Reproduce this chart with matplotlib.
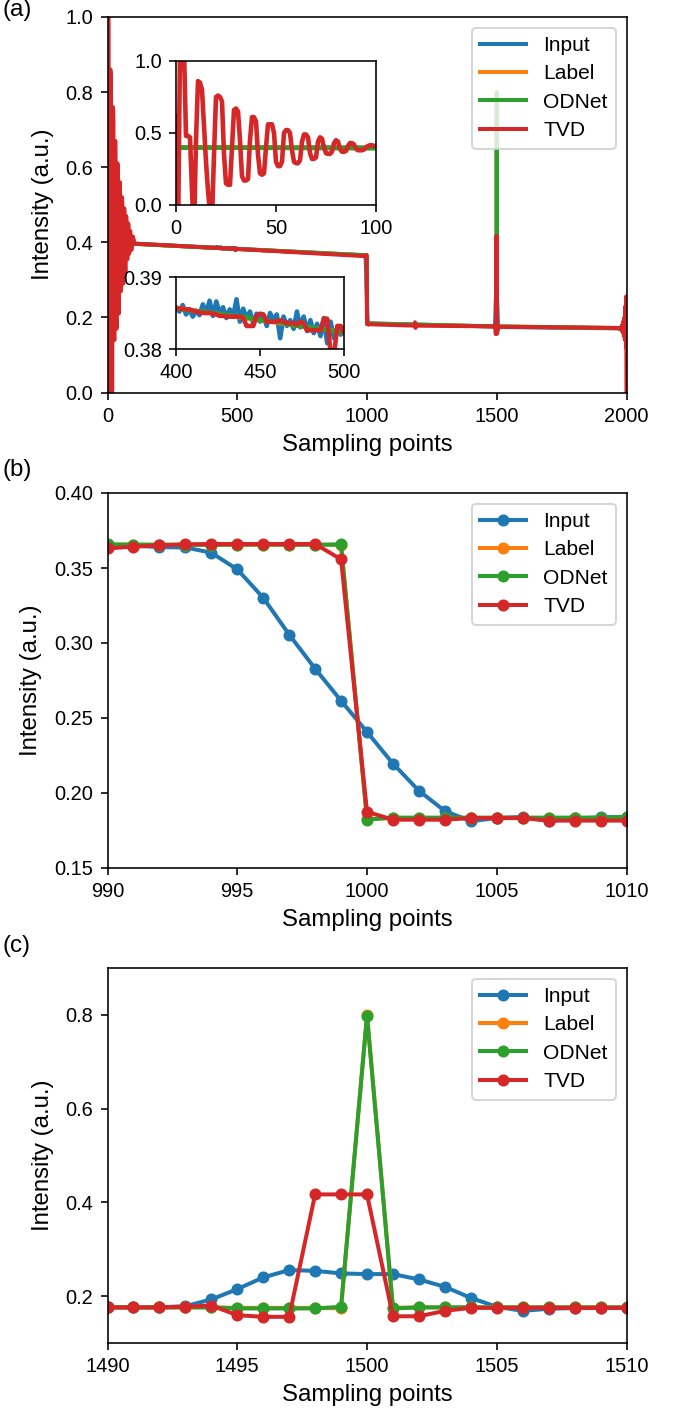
import numpy as np
import matplotlib
matplotlib.use('Agg')
import matplotlib.pyplot as plt

plt.rcParams['font.family'] = ['Liberation Sans', 'DejaVu Sans']

series_names = ['Input', 'Label', 'ODNet', 'TVD']
colors = ['#1f77b4', '#ff7f0e', '#2ca02c', '#d62728']

# ---------------- Panel (b): step region 990..1010 ----------------
x_b = list(range(990, 1011))
input_b = [0.3653, 0.3650, 0.3639, 0.3637, 0.3602, 0.3491, 0.3302, 0.3056, 0.2829, 0.2615,
           0.2407, 0.2196, 0.2015, 0.1880, 0.1812, 0.1833, 0.1840, 0.1813, 0.1830, 0.1838, 0.1840]
label_b = [0.3655, 0.3655, 0.3655, 0.3655, 0.3655, 0.3655, 0.3655, 0.3655, 0.3655, 0.3655,
           0.1826, 0.1833, 0.1833, 0.1833, 0.1833, 0.1833, 0.1833, 0.1833, 0.1833, 0.1833, 0.1833]
odnet_b = [0.3658, 0.3656, 0.3655, 0.3655, 0.3655, 0.3656, 0.3656, 0.3655, 0.3655, 0.3657,
           0.1823, 0.1836, 0.1836, 0.1836, 0.1836, 0.1836, 0.1836, 0.1836, 0.1836, 0.1836, 0.1838]
tvd_b = [0.3631, 0.3642, 0.3651, 0.3657, 0.3660, 0.3660, 0.3660, 0.3660, 0.3660, 0.3558,
         0.1875, 0.1822, 0.1822, 0.1822, 0.1833, 0.1833, 0.1833, 0.1816, 0.1816, 0.1816, 0.1816]

# ---------------- Panel (c): spike region 1490..1510 ----------------
x_c = list(range(1490, 1511))
input_c = [0.1758, 0.1760, 0.1760, 0.1787, 0.1929, 0.2149, 0.2399, 0.2555, 0.2540, 0.2484,
           0.2470, 0.2470, 0.2356, 0.2199, 0.1963, 0.1772, 0.1686, 0.1730, 0.1745, 0.1745, 0.1745]
label_c = [0.1760, 0.1760, 0.1760, 0.1760, 0.1760, 0.1750, 0.1750, 0.1750, 0.1750, 0.1740,
           0.8000, 0.1750, 0.1760, 0.1760, 0.1760, 0.1760, 0.1760, 0.1760, 0.1760, 0.1760, 0.1760]
odnet_c = [0.1760, 0.1760, 0.1760, 0.1760, 0.1760, 0.1737, 0.1737, 0.1737, 0.1737, 0.1772,
           0.7980, 0.1737, 0.1760, 0.1760, 0.1760, 0.1760, 0.1760, 0.1760, 0.1760, 0.1760, 0.1760]
tvd_c = [0.1760, 0.1760, 0.1760, 0.1772, 0.1800, 0.1594, 0.1558, 0.1558, 0.4170, 0.4170,
         0.4170, 0.1570, 0.1570, 0.1686, 0.1750, 0.1750, 0.1750, 0.1750, 0.1750, 0.1750, 0.1750]

# ---------------- Panel (a): TVD ringing at the start, 0..100 ----------------
x_start = list(range(0, 101))
tvd_start = [0.62, -0.25, 1.08, 1.10, 1.08, 0.48, 0.48, 0.47, 0.10, -0.20,
             0.45, 0.86, 0.85, 0.80, 0.55, 0.30, 0.10, -0.05, -0.10, 0.35,
             0.75, 0.76, 0.75, 0.72, 0.35, 0.15, 0.14, 0.14, 0.40, 0.66,
             0.67, 0.65, 0.45, 0.20, 0.17, 0.17, 0.18, 0.45, 0.61, 0.61,
             0.58, 0.35, 0.22, 0.21, 0.22, 0.40, 0.56, 0.56, 0.56, 0.50,
             0.30, 0.27, 0.27, 0.30, 0.50, 0.52, 0.52, 0.50, 0.38, 0.30,
             0.29, 0.29, 0.31, 0.44, 0.49, 0.49, 0.47, 0.36, 0.32, 0.32,
             0.33, 0.44, 0.47, 0.46, 0.40, 0.36, 0.355, 0.355, 0.37, 0.43,
             0.45, 0.44, 0.39, 0.37, 0.37, 0.375, 0.41, 0.43, 0.43, 0.42,
             0.39, 0.38, 0.38, 0.38, 0.385, 0.40, 0.41, 0.415, 0.415, 0.41,
             0.41]

# ---------------- Panel (a) inset region 400..500 (every 2 samples) ----------------
x_mid = list(range(400, 501, 2))
input_mid = [0.3858, 0.3852, 0.3861, 0.3848, 0.3855, 0.3845, 0.3853, 0.3847, 0.3862, 0.3850,
             0.3867, 0.3846, 0.3866, 0.3849, 0.3858, 0.3843, 0.3855, 0.3845, 0.3869, 0.3838,
             0.3856, 0.3842, 0.3852, 0.3835, 0.3849, 0.3838, 0.3847, 0.3832, 0.3850, 0.3840,
             0.3848, 0.3815, 0.3845, 0.3832, 0.3840, 0.3828, 0.3852, 0.3830, 0.3845, 0.3825,
             0.3840, 0.3822, 0.3835, 0.3818, 0.3843, 0.3808, 0.3838, 0.3815, 0.3830, 0.3820,
             0.3826]
tvd_mid = [0.3856, 0.3856, 0.3856, 0.3855, 0.3855, 0.3853, 0.3852, 0.3851, 0.3850, 0.3850,
           0.3850, 0.3849, 0.3848, 0.3846, 0.3846, 0.3845, 0.3845, 0.3845, 0.3845, 0.3845,
           0.3843, 0.3832, 0.3832, 0.3832, 0.3846, 0.3849, 0.3848, 0.3838, 0.3838, 0.3838,
           0.3838, 0.3840, 0.3838, 0.3836, 0.3836, 0.3836, 0.3834, 0.3838, 0.3836, 0.3826,
           0.3826, 0.3826, 0.3826, 0.3826, 0.3842, 0.3842, 0.3795, 0.3790, 0.3832, 0.3832,
           0.3822]
x_mid_od = [400, 410, 420, 430, 440, 450, 460, 470, 480, 490, 500]
odnet_mid = [0.3856, 0.3853, 0.3851, 0.3847, 0.3845, 0.3840, 0.3838, 0.3833, 0.3830, 0.3826, 0.3823]

# ---------------- Sparse read-off anchor points elsewhere ----------------
label_anchor_x = [0, 100, 400, 500, 2000]
label_anchor_y = [0.3990, 0.3960, 0.3857, 0.3823, 0.1710]
input_anchor_x = [0, 2, 100, 2000]
input_anchor_y = [0.3400, 0.4000, 0.3965, 0.1705]
odnet_anchor_x = [0, 100, 2000]
odnet_anchor_y = [0.3985, 0.3960, 0.1712]
tvd_plateau_x = [104]
tvd_plateau_y = [0.3965]
tvd_bump_x = [1183, 1185, 1187, 1189, 1191]
tvd_bump_y = [0.1780, 0.1870, 0.1720, 0.1820, 0.1780]
tvd_end_x = [1960, 1970, 1975, 1978, 1980, 1982, 1984, 1986, 1988, 1990, 1992, 1994, 1996, 1998, 1999, 2000]
tvd_end_y = [0.172, 0.171, 0.172, 0.168, 0.176, 0.165, 0.180, 0.160, 0.190, 0.150, 0.200, 0.140,
             0.230, 0.120, 0.256, -0.050]


def build(*pairs):
    xs, ys = [], []
    for px, py in pairs:
        xs.extend(px)
        ys.extend(py)
    xs = np.asarray(xs, dtype=float)
    ys = np.asarray(ys, dtype=float)
    order = np.argsort(xs, kind='stable')
    return xs[order], ys[order]


full = {
    'Input': build((input_anchor_x, input_anchor_y), (x_mid, input_mid), (x_b, input_b), (x_c, input_c)),
    'Label': build((label_anchor_x, label_anchor_y), (x_b, label_b), (x_c, label_c)),
    'ODNet': build((odnet_anchor_x, odnet_anchor_y), (x_mid_od, odnet_mid), (x_b, odnet_b), (x_c, odnet_c)),
    'TVD': build((x_start, tvd_start), (tvd_plateau_x, tvd_plateau_y), (x_mid, tvd_mid), (x_b, tvd_b),
                 (tvd_bump_x, tvd_bump_y), (x_c, tvd_c), (tvd_end_x, tvd_end_y)),
}
zoom_b = {'Input': input_b, 'Label': label_b, 'ODNet': odnet_b, 'TVD': tvd_b}
zoom_c = {'Input': input_c, 'Label': label_c, 'ODNet': odnet_c, 'TVD': tvd_c}

W, H, DPI = 677, 1416, 144
fig = plt.figure(figsize=(W / DPI, H / DPI), dpi=DPI)


def rect(l, t, r, b):
    return [l / W, 1 - b / H, (r - l) / W, (b - t) / H]


LEG = dict(loc='upper right', fontsize=10.5, labelspacing=0.45, handlelength=2.2)
LW = 2.0
axa = fig.add_axes(rect(107.5, 17, 626.5, 392.5))
for name, c in zip(series_names, colors):
    x, y = full[name]
    axa.plot(x, y, color=c, lw=LW, label=name)
axa.set_xlim(0, 2000)
axa.set_ylim(0, 1)
axa.set_xticks([0, 500, 1000, 1500, 2000])
axa.set_yticks([0.0, 0.2, 0.4, 0.6, 0.8, 1.0])
axa.set_xlabel('Sampling points', fontsize=12)
axa.set_ylabel('Intensity (a.u.)', fontsize=12, labelpad=6)
axa.legend(**LEG)

# Inset 1 (0..100)
ins1 = fig.add_axes(rect(176, 61, 376, 205))
for name, c in zip(series_names, colors):
    x, y = full[name]
    ins1.plot(x, y, color=c, lw=2.3)
ins1.set_xlim(0, 100)
ins1.set_ylim(0, 1)
ins1.set_xticks([0, 50, 100])
ins1.set_yticks([0.0, 0.5, 1.0])
ins1.tick_params(labelsize=10)

# Inset 2 (400..500)
ins2 = fig.add_axes(rect(176, 277, 344, 349))
for name, c in zip(series_names, colors):
    x, y = full[name]
    ins2.plot(x, y, color=c, lw=2.3)
ins2.set_xlim(400, 500)
ins2.set_ylim(0.38, 0.39)
ins2.set_xticks([400, 450, 500])
ins2.set_yticks([0.38, 0.39])
ins2.tick_params(labelsize=10)

# Panel (b)
axb = fig.add_axes(rect(107.5, 493, 626.5, 868))
for name, c in zip(series_names, colors):
    axb.plot(x_b, zoom_b[name], color=c, lw=LW, marker='o', ms=5, label=name)
axb.set_xlim(990, 1010)
axb.set_ylim(0.15, 0.40)
axb.set_xticks([990, 995, 1000, 1005, 1010])
axb.set_yticks([0.15, 0.20, 0.25, 0.30, 0.35, 0.40])
axb.set_xlabel('Sampling points', fontsize=12)
axb.set_ylabel('Intensity (a.u.)', fontsize=12, labelpad=6)
axb.legend(**LEG)

# Panel (c)
axc = fig.add_axes(rect(107.5, 968, 626.5, 1343))
for name, c in zip(series_names, colors):
    axc.plot(x_c, zoom_c[name], color=c, lw=LW, marker='o', ms=5, label=name)
axc.set_xlim(1490, 1510)
axc.set_ylim(0.1, 0.9)
axc.set_xticks([1490, 1495, 1500, 1505, 1510])
axc.set_yticks([0.2, 0.4, 0.6, 0.8])
axc.set_xlabel('Sampling points', fontsize=12)
axc.set_ylabel('Intensity (a.u.)', fontsize=12, labelpad=6)
axc.legend(**LEG)

for lab, yc in [('(a)', 10), ('(b)', 470), ('(c)', 946)]:
    fig.text(2 / W, 1 - yc / H, lab, fontsize=12, va='center', ha='left')

fig.savefig('out.png', dpi=DPI)
